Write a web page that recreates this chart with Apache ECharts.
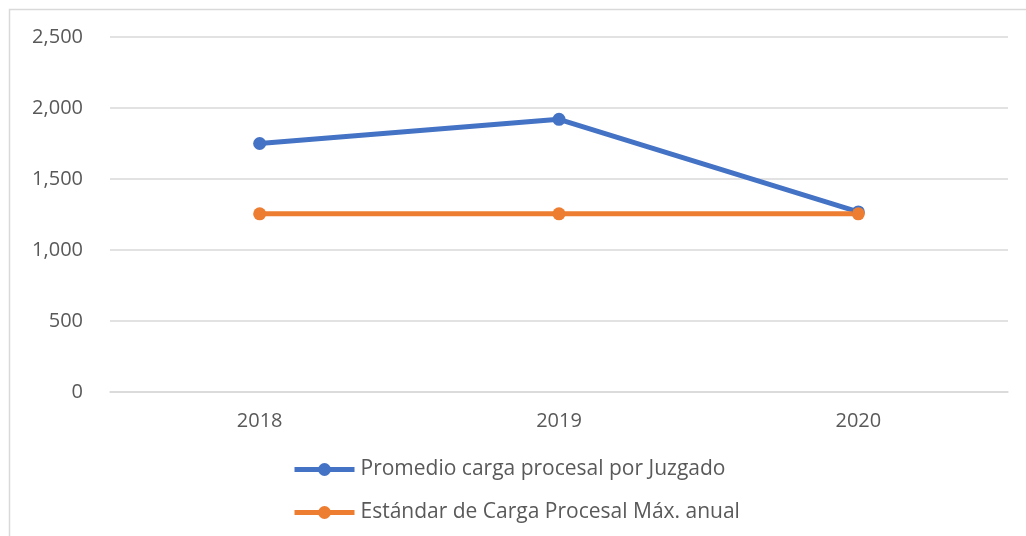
<!DOCTYPE html>
<html><head><meta charset="utf-8">
<script src="https://cdn.jsdelivr.net/npm/echarts@6/dist/echarts.min.js"></script>
<style>html,body{margin:0;padding:0;background:#fff}#c{width:1026px;height:536px}</style>
</head><body><div id="c"></div>
<script>
const categories = ['2018', '2019', '2020'];
const promedio = [1750, 1920, 1268];
const estandar = [1255, 1255, 1255];
const yTicks = { min: 0, max: 2500, interval: 500 };
const seriesNames = ['Promedio carga procesal por Juzgado', 'Estándar de Carga Procesal Máx. anual'];

const chart = echarts.init(document.getElementById('c'));
const font = 'Open Sans, Noto Sans, sans-serif';
const legendBase = {
  orient: 'horizontal', left: 292, itemWidth: 60, itemHeight: 16, padding: 0,
  textStyle: { color: '#595959', fontSize: 21, fontFamily: font, padding: [0, 0, 0, 1] },
  lineStyle: { width: 5 }
};
chart.setOption({
  animation: false,
  graphic: [{ type: 'rect', shape: { x: 9.5, y: 9.5, width: 1100, height: 600 }, style: { fill: 'none', stroke: '#d9d9d9', lineWidth: 1.5 }, silent: true }],
  grid: { left: 110, right: 18, top: 37, bottom: 144, containLabel: false },
  xAxis: {
    type: 'category', data: categories, boundaryGap: true,
    axisLine: { show: true, lineStyle: { color: '#d9d9d9', width: 1.5 } },
    axisTick: { show: false },
    axisLabel: { color: '#595959', fontSize: 20, fontFamily: font, margin: 19 }
  },
  yAxis: {
    type: 'value', min: yTicks.min, max: yTicks.max, interval: yTicks.interval,
    axisLine: { show: false }, axisTick: { show: false },
    splitLine: { lineStyle: { color: '#d9d9d9', width: 1.5 } },
    axisLabel: { color: '#595959', fontSize: 20, fontFamily: font, margin: 27,
      formatter: v => v.toLocaleString('en-US') }
  },
  legend: [
    Object.assign({}, legendBase, { top: 459, data: [seriesNames[0]] }),
    Object.assign({}, legendBase, { top: 502, data: [seriesNames[1]] })
  ],
  series: [
    { name: seriesNames[0], type: 'line', data: promedio, symbol: 'circle', symbolSize: 13,
      lineStyle: { color: '#4472C4', width: 5 }, itemStyle: { color: '#4472C4' } },
    { name: seriesNames[1], type: 'line', data: estandar, symbol: 'circle', symbolSize: 13,
      lineStyle: { color: '#ED7D31', width: 5 }, itemStyle: { color: '#ED7D31' } }
  ]
});
</script></body></html>
